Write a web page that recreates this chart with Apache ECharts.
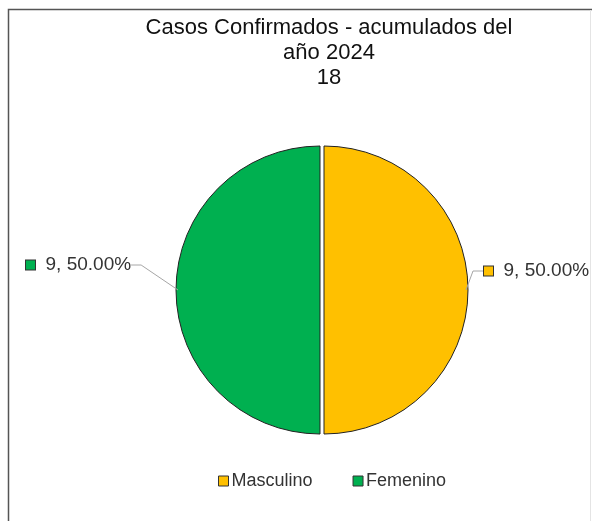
<!DOCTYPE html>
<html>
<head>
<meta charset="utf-8">
<script src="https://cdn.jsdelivr.net/npm/echarts@6/dist/echarts.min.js"></script>
<style>
html,body{margin:0;padding:0;background:#fff;}
#chart{width:592px;height:521px;}
</style>
</head>
<body>
<div id="chart"></div>
<script>
const titleLines = ['Casos Confirmados - acumulados del', 'año 2024', '18'];
const categories = ['Masculino', 'Femenino'];
const values = [9, 9];
const colors = ['#FFC000', '#00B050'];

const chart = echarts.init(document.getElementById('chart'), null, {renderer: 'canvas'});
const FONT = '"Liberation Sans", Arial, sans-serif';

const pieBase = {
  type: 'pie',
  left: 21,
  right: 0,
  top: 0,
  bottom: 0,
  center: [301, 290],
  radius: [0, 144],
  startAngle: 90,
  clockwise: true
};

chart.setOption({
  animation: false,
  backgroundColor: '#fff',
  color: colors,
  title: {
    text: titleLines.join('\n'),
    left: 324,
    top: 10,
    textAlign: 'center',
    textStyle: {fontFamily: FONT, fontSize: 22, fontWeight: 'normal', color: '#111', lineHeight: 25}
  },
  legend: {
    top: 467,
    left: 213,
    icon: 'rect',
    itemWidth: 10,
    itemHeight: 10,
    itemGap: 40,
    selectedMode: false,
    itemStyle: {borderColor: '#333', borderWidth: 1},
    textStyle: {fontFamily: FONT, fontSize: 18, color: '#333', padding: [0, 0, 0, -2]},
    data: categories
  },
  graphic: [
    {type: 'rect', shape: {x: 8.5, y: 9.5, width: 640, height: 640}, style: {fill: 'none', stroke: '#555', lineWidth: 1.5}, silent: true},
    {type: 'line', shape: {x1: 590.5, y1: 10, x2: 590.5, y2: 521}, style: {stroke: '#e4e4e4', lineWidth: 1}, silent: true}
  ],
  series: [
    Object.assign({}, pieBase, {
      name: 'slices',
      selectedMode: 'multiple',
      selectedOffset: 2,
      select: {itemStyle: {borderColor: '#222', borderWidth: 1}},
      itemStyle: {borderColor: '#222', borderWidth: 1},
      label: {show: false},
      labelLine: {show: false},
      data: categories.map(function (c, i) { return {name: c, value: values[i], selected: true}; })
    }),
    Object.assign({}, pieBase, {
      name: 'labels',
      silent: true,
      z: 3,
      itemStyle: {color: 'transparent', borderWidth: 0},
      label: {
        show: true,
        position: 'outside',
        alignTo: 'edge',
        edgeDistance: 4,
        overflow: 'none',
        fontFamily: FONT,
        fontSize: 19,
        color: '#333',
        formatter: function (p) {
          return '{m' + p.dataIndex + '|}  ' + p.value + ', ' + p.percent.toFixed(2) + '%';
        },
        rich: {
          m0: {width: 9, height: 9, backgroundColor: colors[0], borderColor: '#333', borderWidth: 1},
          m1: {width: 9, height: 9, backgroundColor: colors[1], borderColor: '#333', borderWidth: 1}
        }
      },
      labelLine: {show: true, length: 10, length2: 10, lineStyle: {color: '#a6a6a6', width: 1}},
      labelLayout: function (p) {
        return {
          x: p.dataIndex === 0 ? p.labelRect.x + p.labelRect.width - 104 : p.labelRect.x + 2,
          y: p.labelRect.y + (p.dataIndex === 0 ? -19 : -25),
          align: 'left',
          verticalAlign: 'top'
        };
      },
      data: categories.map(function (c, i) { return {name: c, value: values[i]}; })
    })
  ]
});
</script>
</body>
</html>
